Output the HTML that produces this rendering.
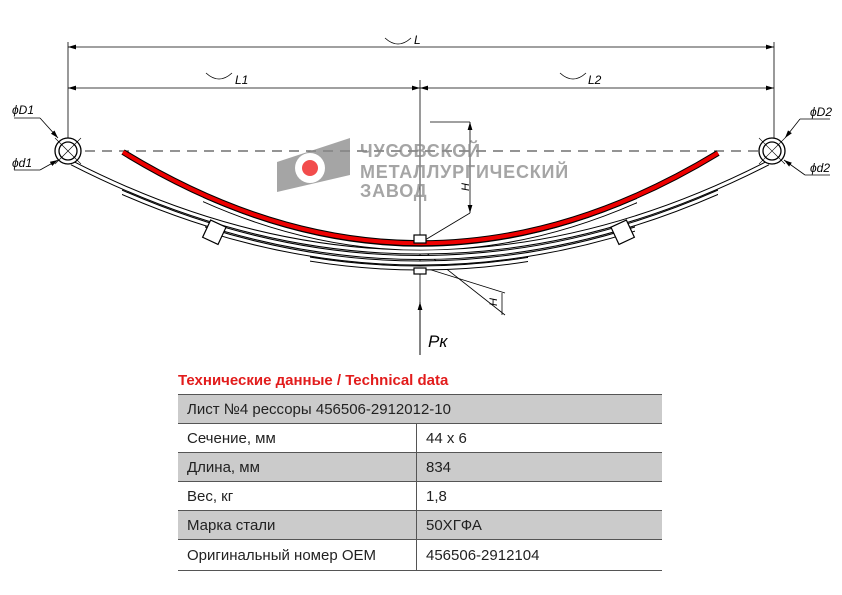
<!DOCTYPE html>
<html><head><meta charset="utf-8"><style>
html,body{margin:0;padding:0;background:#fff}
body{width:842px;height:595px;position:relative;overflow:hidden;font-family:"Liberation Sans",sans-serif}
.t{position:absolute;left:178px;top:394px;width:484px;border-collapse:collapse;font-size:15px;color:#222}
.t td{height:28px;padding:0 0 0 9px;border-top:1px solid #555;border-bottom:1px solid #555}
.g td{background:#cbcbcb}
.t td+td{border-left:1px solid #555}
</style></head><body>
<svg width="842" height="595" style="position:absolute;left:0;top:0" font-family="Liberation Sans, sans-serif">
<defs><marker id="a" markerWidth="10" markerHeight="6" refX="10" refY="3" orient="auto"><path d="M0,0 L10,3 L0,6z" fill="#000"/></marker>
<marker id="b" markerWidth="10" markerHeight="6" refX="0" refY="3" orient="auto"><path d="M10,0 L0,3 L10,6z" fill="#000"/></marker>
<clipPath id="c2"><rect x="122" y="0" width="596" height="400"/></clipPath>
<clipPath id="c3"><rect x="205" y="0" width="430" height="400"/></clipPath>
<clipPath id="c4"><rect x="310" y="0" width="218" height="400"/></clipPath>
<clipPath id="c5"><rect x="203" y="0" width="434" height="400"/></clipPath>
<path id="m" d="M72,163 Q420,341 768,163"/>
<path id="r" d="M123,152 Q420,334 718,153"/>
</defs>
<g stroke="#000" stroke-width="0.8" fill="none">
<line x1="68" y1="42" x2="68" y2="140"/><line x1="774" y1="42" x2="774" y2="140"/>
<line x1="420" y1="80" x2="420" y2="355"/>
<line x1="68" y1="47" x2="774" y2="47" marker-start="url(#b)" marker-end="url(#a)"/>
<line x1="68" y1="88" x2="420" y2="88" marker-start="url(#b)" marker-end="url(#a)"/>
<line x1="420" y1="88" x2="774" y2="88" marker-start="url(#b)" marker-end="url(#a)"/>
<path d="M385,38 Q398,50 411,38"/><path d="M206,73 Q219,85 232,73"/><path d="M560,73 Q573,85 586,73"/>
<line x1="420" y1="355" x2="420" y2="302" marker-end="url(#a)"/>
<line x1="425" y1="240" x2="470" y2="213"/><line x1="430" y1="122" x2="470" y2="122"/>
<line x1="470" y1="122" x2="470" y2="213" marker-start="url(#b)" marker-end="url(#a)"/>
<line x1="425" y1="252" x2="505" y2="315"/><line x1="425" y1="268" x2="505" y2="293"/>
<line x1="502" y1="293" x2="502" y2="315"/>
<line x1="14" y1="118" x2="40" y2="118"/><line x1="40" y1="118" x2="58" y2="138" marker-end="url(#a)"/>
<line x1="14" y1="170" x2="40" y2="170"/><line x1="40" y1="170" x2="58" y2="160" marker-end="url(#a)"/>
<line x1="830" y1="119" x2="800" y2="119"/><line x1="800" y1="119" x2="785" y2="138" marker-end="url(#a)"/>
<line x1="830" y1="175" x2="805" y2="175"/><line x1="805" y1="175" x2="784" y2="160" marker-end="url(#a)"/>
</g>
<line x1="85" y1="151" x2="760" y2="151" stroke="#555" stroke-width="1.2" stroke-dasharray="10,7"/>
<g font-style="italic" font-size="12" fill="#000">
<text x="414" y="44">L</text><text x="235" y="84">L1</text><text x="588" y="84">L2</text>
<text x="12" y="114">ϕD1</text><text x="12" y="167">ϕd1</text><text x="810" y="116">ϕD2</text><text x="810" y="172">ϕd2</text>
<text x="428" y="347" font-size="17">Pк</text>
<text x="490" y="305" font-size="11" transform="rotate(-90 494 302)">H</text>
<text x="462" y="190" font-size="11" transform="rotate(-90 466 187)">H</text>
</g>
<g opacity="0.75">
<path d="M277,162 L350,138 L350,175 L277,192z" fill="#888"/>
<circle cx="310" cy="168" r="15" fill="#fff"/><circle cx="310" cy="168" r="8" fill="#e11"/>
<g fill="#888" font-size="18" font-weight="bold" letter-spacing="0.8"><text x="360" y="157">ЧУСОВСКОЙ</text><text x="360" y="178">МЕТАЛЛУРГИЧЕСКИЙ</text><text x="360" y="197">ЗАВОД</text></g>
</g>
<g fill="none">
<g stroke="#000" stroke-width="5">
<use href="#m" transform="translate(0,16)" clip-path="url(#c4)"/>
<use href="#m" transform="translate(0,11)" clip-path="url(#c3)"/>
<use href="#m" transform="translate(0,5.5)" clip-path="url(#c2)"/>
<use href="#m"/>
<use href="#r" transform="translate(0,5)" clip-path="url(#c5)"/>
</g>
<g stroke="#fff" stroke-width="3">
<use href="#m" transform="translate(0,16)" clip-path="url(#c4)"/>
<use href="#m" transform="translate(0,11)" clip-path="url(#c3)"/>
<use href="#m" transform="translate(0,5.5)" clip-path="url(#c2)"/>
<use href="#m"/>
<use href="#r" transform="translate(0,5)" clip-path="url(#c5)"/>
</g>
<use href="#r" stroke="#000" stroke-width="6"/>
<use href="#r" stroke="#e00" stroke-width="4"/>
</g>
<g stroke="#000" fill="#fff" stroke-width="1.3">
<circle cx="68" cy="151" r="13"/><circle cx="68" cy="151" r="9"/>
<circle cx="772" cy="151" r="13"/><circle cx="772" cy="151" r="9"/>
</g>
<g stroke="#000" stroke-width="0.6"><line x1="55" y1="138" x2="81" y2="164"/><line x1="55" y1="164" x2="81" y2="138"/><line x1="759" y1="138" x2="785" y2="164"/><line x1="759" y1="164" x2="785" y2="138"/></g>
<g stroke="#000" stroke-width="1.2" fill="#fff">
<rect x="206" y="223" width="17" height="19" transform="rotate(25 215 232)"/>
<rect x="614" y="223" width="17" height="19" transform="rotate(-25 622 232)"/>
<rect x="414" y="235" width="12" height="8"/><rect x="414" y="268" width="12" height="6"/>
</g>
<text x="178" y="385" font-size="15" font-weight="bold" fill="#e21c1c">Технические данные / Technical data</text>
</svg>
<table class="t">
<tr class="g"><td colspan="2">Лист №4 рессоры 456506-2912012-10</td></tr>
<tr><td style="width:229px">Сечение, мм</td><td>44 x 6</td></tr>
<tr class="g"><td>Длина, мм</td><td>834</td></tr>
<tr><td>Вес, кг</td><td>1,8</td></tr>
<tr class="g"><td>Марка стали</td><td>50ХГФА</td></tr>
<tr><td style="height:30px">Оригинальный номер OEM</td><td>456506-2912104</td></tr>
</table>
</body></html>
